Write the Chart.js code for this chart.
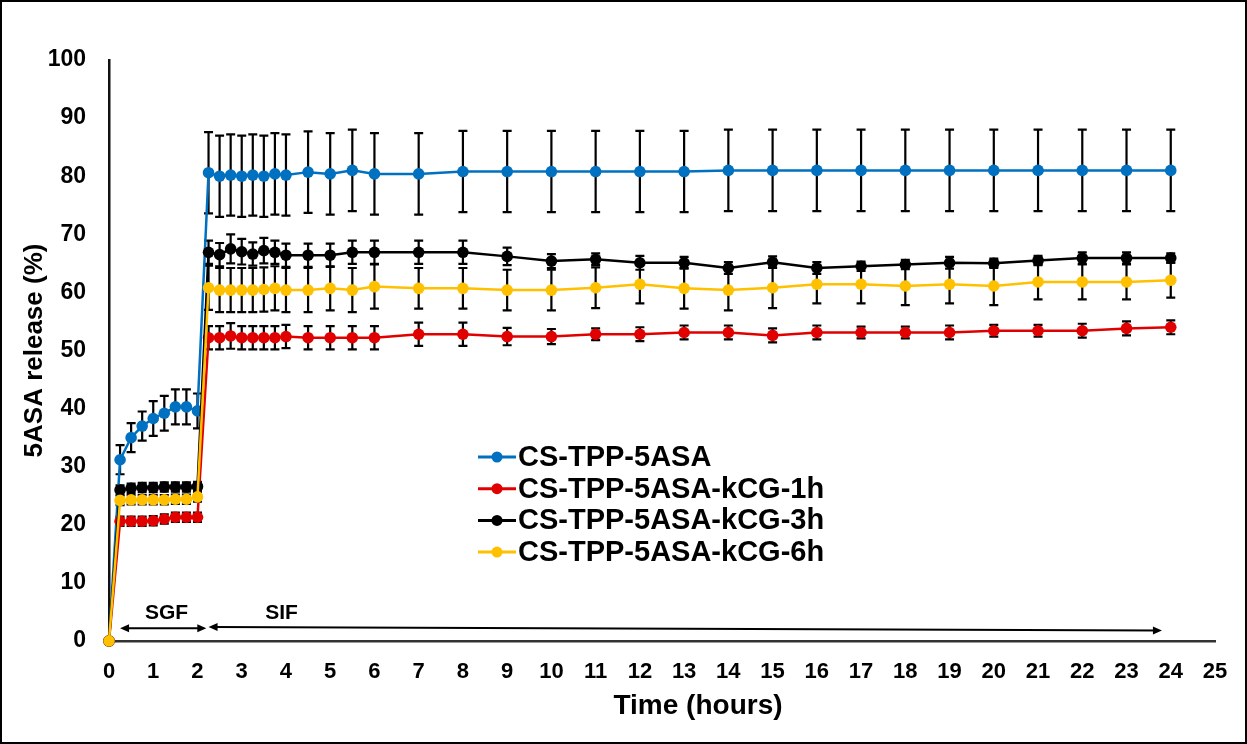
<!DOCTYPE html>
<html>
<head>
<meta charset="utf-8">
<title>5ASA release</title>
<script src="https://cdn.jsdelivr.net/npm/chart.js@4.4.1/dist/chart.umd.min.js"></script>
<style>
body{margin:0;background:#fff;}
canvas{display:block;}
</style>
</head>
<body>
<canvas id="chart" width="1247" height="744"></canvas>
<script>
// sampling times (hours): every 15 min up to 4 h, then 30 min, then hourly
const hours=[0,0.25,0.5,0.75,1,1.25,1.5,1.75,2,
  2.25,2.5,2.75,3,3.25,3.5,3.75,4,
  4.5,5,5.5,6,
  7,8,9,10,11,12,13,14,15,16,17,18,19,20,21,22,23,24];

const labels=["CS-TPP-5ASA","CS-TPP-5ASA-kCG-1h","CS-TPP-5ASA-kCG-3h","CS-TPP-5ASA-kCG-6h"];
const colors=["#0070C0","#E00000","#000000","#FFC000"];

const csTpp=[0,31.2,35.0,37.0,38.3,39.2,40.3,40.3,39.6,
  80.6,80.0,80.2,80.0,80.2,80.0,80.4,80.2,
  80.7,80.4,81.0,80.4,
  80.4,80.8,80.8,80.8,80.8,80.8,80.8,81.0,81.0,81.0,81.0,81.0,81.0,81.0,81.0,81.0,81.0,81.0];
const csTppErr=[0,2.5,2.5,2.5,3,3,3,3,3,
  7,7,7,7,7,7,7,7,
  7,7,7,7,
  7,7,7,7,7,7,7,7,7,7,7,7,7,7,7,7,7,7];

const kcg1h=[0,20.6,20.6,20.6,20.7,21.0,21.3,21.3,21.3,
  52.2,52.2,52.5,52.2,52.2,52.2,52.2,52.4,
  52.2,52.2,52.2,52.2,
  52.8,52.8,52.4,52.4,52.8,52.8,53.1,53.1,52.6,53.1,53.1,53.1,53.1,53.4,53.4,53.4,53.8,54.0];
const kcg1hErr=[0,0.8,0.8,0.8,0.8,0.8,0.8,0.8,0.8,
  2,2,2.2,2,2,2,2,2,
  2,2,2,2,
  2,2,1.5,1.3,1,1.2,1.2,1.2,1.2,1.2,1,1,1.2,1,1,1.2,1.2,1.2];

const kcg3h=[0,26.0,26.3,26.4,26.4,26.5,26.5,26.5,26.6,
  66.9,66.5,67.5,67.0,66.6,67.2,66.9,66.4,
  66.4,66.4,66.9,66.9,
  66.9,66.9,66.2,65.4,65.7,65.1,65.1,64.2,65.2,64.2,64.5,64.8,65.1,65.0,65.5,65.9,65.9,65.9];
const kcg3hErr=[0,0.8,0.8,0.8,0.8,0.8,0.8,0.8,0.8,
  2,2,2.5,2.2,2,2.2,2,2,
  2,2,2,2,
  2,2,1.5,1.2,1,1.2,1,1,1,1,0.8,0.8,1,0.8,0.8,1,1,0.8];

const kcg6h=[0,24.2,24.3,24.3,24.3,24.3,24.4,24.4,24.8,
  60.8,60.4,60.4,60.4,60.4,60.5,60.7,60.4,
  60.4,60.7,60.4,61.0,
  60.7,60.7,60.4,60.4,60.8,61.4,60.7,60.4,60.8,61.4,61.4,61.1,61.4,61.1,61.8,61.8,61.8,62.1];
const kcg6hErr=[0,0.8,0.8,0.8,0.8,0.8,0.8,0.8,0.8,
  3.8,3.8,3.8,3.8,3.8,3.8,3.8,3.8,
  3.8,3.8,3.8,3.8,
  3.5,3.5,3.5,3.5,3.5,3.3,3.5,3.5,3.5,3.3,3.3,3.3,3.3,3.3,3,3,3,3];

const values=[csTpp,kcg1h,kcg3h,kcg6h];
const errors=[csTppErr,kcg1hErr,kcg3hErr,kcg6hErr];

const FONT='"Liberation Sans", Arial, sans-serif';

// black error bars, drawn under the lines
const errorBars={
  id:"errorBars",
  beforeDatasetsDraw(chart){
    const c=chart.ctx, y=chart.scales.y;
    c.save();
    c.strokeStyle="#000";
    c.lineWidth=2.2;
    chart.data.datasets.forEach((ds,i)=>{
      const meta=chart.getDatasetMeta(i);
      errors[i].forEach((e,j)=>{
        if(!e) return;
        const px=meta.data[j].x;
        const top=y.getPixelForValue(values[i][j]+e);
        const bot=y.getPixelForValue(values[i][j]-e);
        c.beginPath();
        c.moveTo(px,top);c.lineTo(px,bot);
        c.moveTo(px-4.5,top);c.lineTo(px+4.5,top);
        c.moveTo(px-4.5,bot);c.lineTo(px+4.5,bot);
        c.stroke();
      });
    });
    c.restore();
  }
};

// SGF / SIF phase arrows
const phases=[
  {text:"SGF",from:0.25,to:2.2,y1:2.2,y2:2.2,tx:1.3,ty:4.7},
  {text:"SIF",from:2.25,to:23.8,y1:2.4,y2:1.8,tx:3.9,ty:4.7}
];
function head(c,x,y,dir){
  c.beginPath();
  c.moveTo(x,y);
  c.lineTo(x-dir*9,y-4);
  c.lineTo(x-dir*9,y+4);
  c.closePath();
  c.fill();
}
const phaseArrows={
  id:"phaseArrows",
  afterDatasetsDraw(chart){
    const c=chart.ctx, sx=chart.scales.x, sy=chart.scales.y;
    c.save();
    c.strokeStyle="#000";c.fillStyle="#000";c.lineWidth=2;
    c.font="bold 21px "+FONT;
    c.textAlign="center";c.textBaseline="middle";
    phases.forEach(p=>{
      const x1=sx.getPixelForValue(p.from), x2=sx.getPixelForValue(p.to);
      const y1=sy.getPixelForValue(p.y1), y2=sy.getPixelForValue(p.y2);
      c.beginPath();c.moveTo(x1+4,y1);c.lineTo(x2-4,y2);c.stroke();
      head(c,x1,y1,-1);
      head(c,x2,y2,1);
      c.fillText(p.text,sx.getPixelForValue(p.tx),sy.getPixelForValue(p.ty));
    });
    c.restore();
  }
};

// legend sitting inside the plot, plus x title and outer frame
const extras={
  id:"extras",
  afterDraw(chart){
    const c=chart.ctx;
    c.save();
    c.font="bold 29px "+FONT;
    c.textAlign="left";c.textBaseline="middle";
    chart.data.datasets.forEach((ds,i)=>{
      const ly=457+i*31.7;
      c.strokeStyle=ds.borderColor;c.lineWidth=3;
      c.beginPath();c.moveTo(478,ly);c.lineTo(516,ly);c.stroke();
      c.fillStyle=ds.borderColor;
      c.beginPath();c.arc(497,ly,5.5,0,Math.PI*2);c.fill();
      c.fillStyle="#000";
      c.fillText(ds.label,518,ly+1);
    });
    c.font="bold 28px "+FONT;
    c.textAlign="center";
    c.fillText("Time (hours)",698,706);
    c.strokeStyle="#000";c.lineWidth=2;
    c.strokeRect(1,1,chart.width-2,chart.height-2);
    c.restore();
  }
};

const datasets=values.map((v,i)=>({
  label:labels[i],
  data:hours.map((h,j)=>({x:h,y:v[j]})),
  borderColor:colors[i],
  backgroundColor:colors[i],
  borderWidth:2.5,
  pointRadius:5.8,
  pointBorderWidth:0,
  pointBackgroundColor:colors[i],
  tension:0,
  clip:false,
  order:3-i
}));

const ctx=document.getElementById("chart").getContext("2d");
new Chart(ctx,{
  type:"line",
  data:{datasets:datasets},
  options:{
    responsive:false,
    devicePixelRatio:1,
    animation:false,
    layout:{padding:{top:60,right:32,left:0,bottom:0}},
    plugins:{legend:{display:false},tooltip:{enabled:false}},
    scales:{
      x:{
        type:"linear",min:0,max:25,
        ticks:{stepSize:1,autoSkip:false,maxTicksLimit:30,maxRotation:0,padding:18,color:"#000",
          font:{family:FONT,size:22,weight:"bold"}},
        grid:{display:false,drawTicks:false},
        border:{display:true,color:"#333",width:2.5},
        afterFit(s){s.height=103;}
      },
      y:{
        min:0,max:100,
        ticks:{stepSize:10,padding:23,color:"#000",font:{family:FONT,size:23,weight:"bold"}},
        grid:{display:false,drawTicks:false},
        border:{display:true,color:"#111",width:2.5},
        title:{display:true,text:"5ASA release (%)",color:"#000",
          font:{family:FONT,size:26,weight:"bold"},padding:{top:19,bottom:0}},
        afterFit(s){s.width=109;}
      }
    }
  },
  plugins:[errorBars,phaseArrows,extras]
});
</script>
</body>
</html>
